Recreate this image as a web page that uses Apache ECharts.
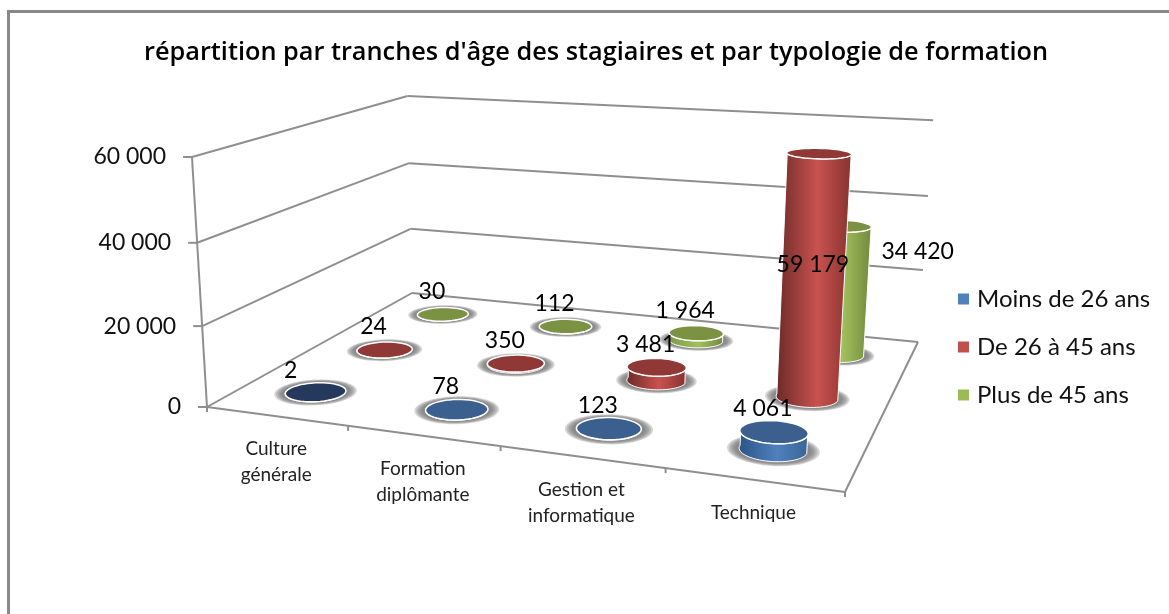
<!DOCTYPE html>
<html>
<head>
<meta charset="utf-8">
<title>répartition par tranches d'âge</title>
<script src="https://cdn.jsdelivr.net/npm/echarts@6/dist/echarts.min.js"></script>
<style>html,body{margin:0;padding:0;background:#fff}</style>
</head>
<body>
<div id="main" style="width:1169px;height:614px;"></div>
<script type="text/javascript">
// data
var categories = ['Culture\ngénérale', 'Formation\ndiplômante', 'Gestion et\ninformatique', 'Technique'];
var seriesNames = ['Moins de 26 ans', 'De 26 à 45 ans', 'Plus de 45 ans'];
var moins26 = [2, 78, 123, 4061];
var de26a45 = [24, 350, 3481, 59179];
var plus45 = [30, 112, 1964, 34420];
var valueTicks = [0, 20000, 40000, 60000];
var valueMax = 60000;

// the perspective box: floor corners in pixels, then the point the verticals run to
var floorA = [207, 407], floorB = [845, 492], floorD = [918, 342], floorC = [412, 293];
var vanish = [538, 5918], lift = -0.0434;
var DEPTH = 3, RADIUS = 0.195;

function fmt(v) { return String(v).replace(/\B(?=(\d{3})+$)/g, ' '); }

// unit square -> floor homography
var H = (function () {
    var x0 = floorA[0], y0 = floorA[1], x1 = floorB[0], y1 = floorB[1];
    var x2 = floorD[0], y2 = floorD[1], x3 = floorC[0], y3 = floorC[1];
    var dx1 = x1 - x2, dx2 = x3 - x2, sx = x0 - x1 + x2 - x3;
    var dy1 = y1 - y2, dy2 = y3 - y2, sy = y0 - y1 + y2 - y3;
    var d = dx1 * dy2 - dx2 * dy1;
    var g = (sx * dy2 - dx2 * sy) / d, h = (dx1 * sy - sx * dy1) / d;
    return [x1 - x0 + g * x1, x3 - x0 + h * x3, x0, y1 - y0 + g * y1, y3 - y0 + h * y3, y0, g, h];
})();

// u, v in 0..1 on the floor, t in 0..1 up the value axis
function project(u, v, t) {
    var w = H[6] * u + H[7] * v + 1 + t * lift;
    return [
        (H[0] * u + H[1] * v + H[2] + t * lift * vanish[0]) / w,
        (H[3] * u + H[4] * v + H[5] + t * lift * vanish[1]) / w
    ];
}

function ring(cu, cv, t, from, to, n, grow) {
    var pts = [], r = RADIUS * (grow || 1);
    for (var i = 0; i <= n; i++) {
        var a = from + (to - from) * i / n;
        pts.push(project((cu + r * Math.cos(a)) / categories.length, (cv + r * Math.sin(a)) / DEPTH, t));
    }
    return pts;
}

function line(p, q, w) {
    return { type: 'line', shape: { x1: p[0], y1: p[1], x2: q[0], y2: q[1] }, style: { stroke: '#8f8f8f', lineWidth: w || 2 } };
}

function renderFrame(params, api) {
    var kids = [];
    var n = categories.length;
    valueTicks.forEach(function (tick) {
        var t = tick / valueMax;
        var a = project(0, 0, t), c = project(0, 1, t), d = project(1, 1, t);
        kids.push(line(a, c), line(c, d));
        kids.push(line([a[0] - 9, a[1]], a));
        kids.push({ type: 'text', x: a[0] - 26, y: a[1], style: { text: fmt(tick), font: '23px Lato', fill: '#111', textAlign: 'right', textVerticalAlign: 'middle' } });
    });
    kids.push(line(project(0, 0, 0), project(0, 0, 1)));
    kids.push(line(project(0, 0, 0), project(1, 0, 0)));
    kids.push(line(project(1, 0, 0), project(1, 1, 0)));
    for (var i = 0; i <= n; i++) {
        var p = project(i / n, 0, 0);
        kids.push(line(p, [p[0], p[1] + 5]));
    }
    categories.forEach(function (name, i) {
        var p = project((i + 0.5) / n, 0, 0);
        kids.push({ type: 'text', x: p[0], y: p[1] + 20, style: { text: name, font: '19px Lato', lineHeight: 26, fill: '#222', textAlign: 'center', textVerticalAlign: 'top' } });
    });
    return { type: 'group', children: kids };
}

// label offsets from the top of a cylinder; the two tall ones are placed from their middle
var labelShift = { '0,0': [-25, -22], '1,3': [0, -14], '2,3': [79, -39] };
var sideColors = [['#2c5487', '#4f81bd', '#3a6496'], ['#6a2a28', '#c9524f', '#86332f'], ['#7d9a47', '#a2c05c', '#71893d']];
var topColors = ['#3b5f8f', '#8f3836', '#7a9241'];

function renderCylinder(params, api) {
    var s = params.seriesIndex - 1;
    var pos = api.coord([api.value(0), api.value(1)]);
    var size = api.size([1, valueMax]);
    var area = params.coordSys;
    var cu = (pos[0] - area.x) / size[0];
    var t = (area.y + area.height - pos[1]) / area.height;
    var cv = s + 0.5;
    var kids = [];
    // soft grey halo on the floor, built from widening see-through rings
    [1.36, 1.3, 1.24, 1.18, 1.12].forEach(function (grow) {
        kids.push({
            type: 'polygon', shape: { points: ring(cu, cv, 0, 0, Math.PI * 2, 48, grow) },
            style: { fill: 'rgba(110,110,110,0.28)' }
        });
    });
    kids.push({
        type: 'polygon',
        shape: { points: ring(cu, cv, 0, Math.PI, Math.PI * 2, 32).concat(ring(cu, cv, t, Math.PI * 2, Math.PI, 32)) },
        style: {
            fill: { type: 'linear', x: 0, y: 0, x2: 1, y2: 0, colorStops: [
                { offset: 0, color: sideColors[s][0] }, { offset: 0.55, color: sideColors[s][1] }, { offset: 1, color: sideColors[s][2] }
            ] },
            stroke: '#fff', lineWidth: 1
        }
    });
    kids.push({
        type: 'polygon', shape: { points: ring(cu, cv, t, 0, Math.PI * 2, 48) },
        style: { fill: api.value(1) < 10 ? '#24395c' : topColors[s], stroke: '#fff', lineWidth: 1.5 }
    });
    var anchor = project(cu / categories.length, cv / DEPTH, t > 0.5 ? t / 2 : t);
    var shift = labelShift[s + ',' + api.value(2)] || [-11, -23];
    kids.push({
        type: 'text', x: anchor[0] + shift[0], y: anchor[1] + shift[1],
        style: { text: fmt(api.value(1)), font: '23px Lato', fill: '#000', textAlign: 'center', textVerticalAlign: 'middle' }
    });
    return { type: 'group', children: kids };
}

function rows(values) {
    return values.map(function (v, i) { return [i + 0.5, v, i]; });
}

var myChart = echarts.init(document.getElementById('main'));
var option = {
    animation: false,
    backgroundColor: '#fff',
    title: {
        text: "répartition par tranches d'âge des stagiaires et par typologie de formation",
        left: 139, top: 35,
        textStyle: { fontFamily: 'Open Sans', fontSize: 25.3, fontWeight: 600, color: '#000' }
    },
    legend: {
        orient: 'vertical', left: 953, top: 282, itemWidth: 11, itemHeight: 11, itemGap: 24,
        icon: 'rect', data: seriesNames,
        textStyle: { fontFamily: 'Lato', fontSize: 24, color: '#111', padding: [0, 0, 0, 3] }
    },
    color: ['#4f81bd', '#c0504d', '#9bbb59'],
    // hidden axes: the cylinders read their category and height back from these scales
    grid: { left: 100, top: 100, width: 400, height: 300 },
    xAxis: { type: 'value', min: 0, max: 4, show: false },
    yAxis: { type: 'value', min: 0, max: valueMax, show: false },
    graphic: [{
        type: 'rect', shape: { x: 8.5, y: 11.5, width: 1300, height: 900 },
        style: { fill: 'none', stroke: '#888888', lineWidth: 3 }, z: -1, silent: true
    }],
    series: [
        { type: 'custom', name: 'cadre', renderItem: renderFrame, data: [[0, 0]], z: 1, silent: true },
        { type: 'custom', name: seriesNames[0], renderItem: renderCylinder, data: rows(moins26), z: 4, silent: true, clip: false, itemStyle: { color: '#4f81bd' } },
        { type: 'custom', name: seriesNames[1], renderItem: renderCylinder, data: rows(de26a45), z: 3, silent: true, clip: false, itemStyle: { color: '#c0504d' } },
        { type: 'custom', name: seriesNames[2], renderItem: renderCylinder, data: rows(plus45), z: 2, silent: true, clip: false, itemStyle: { color: '#9bbb59' } }
    ]
};
myChart.setOption(option);
</script>
</body>
</html>
